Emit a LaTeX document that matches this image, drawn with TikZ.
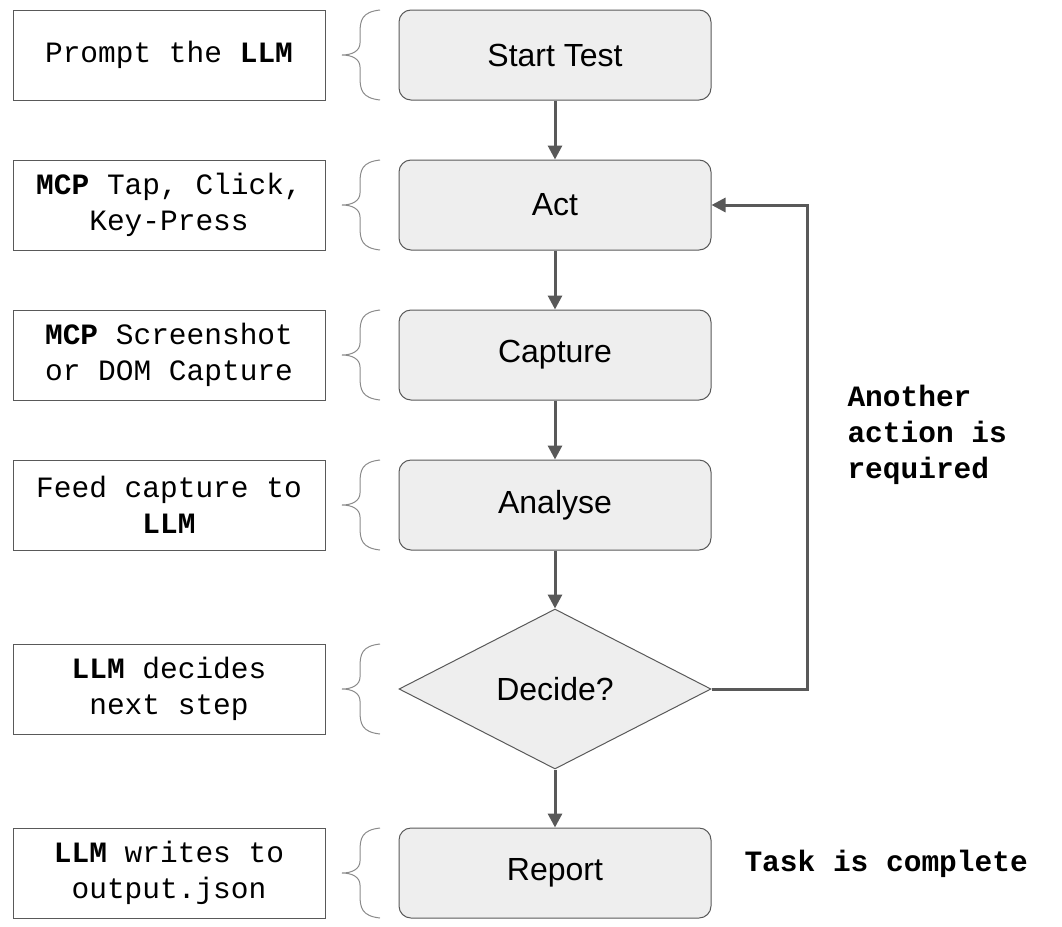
\documentclass[tikz,border=0pt]{standalone}
\usepackage{fontspec}
\setmainfont{Liberation Sans}
\setmonofont{Liberation Mono}
\usetikzlibrary{shapes.geometric,arrows.meta}
\definecolor{ln}{HTML}{595959}
\definecolor{fillg}{HTML}{EEEEEE}
\begin{document}
\begin{tikzpicture}[x=1pt,y=-1pt,
  note/.style={draw=ln,line width=1pt,minimum width=312pt,minimum height=90pt,align=center,font=\fontsize{29.5}{36}\selectfont\ttfamily},
  stepbox/.style={draw=ln,fill=fillg,line width=1pt,rounded corners=12pt,minimum width=312pt,minimum height=90pt,font=\fontsize{32}{38}\selectfont},
  arr/.style={draw=ln,line width=3pt,-{Triangle[length=14pt,width=14pt]}},
  brc/.style={draw=ln!70,line width=1pt},
  lbl/.style={font=\fontsize{29.5}{36}\selectfont\ttfamily\bfseries,align=left}]
\useasboundingbox (0,0) rectangle (1062,926);
\foreach \y/\n in {55/a,205/b,355/c,505/d,689/e,873/f}{
  \draw[brc] (380,\y-45) .. controls (362,\y-43) and (360,\y-35) .. (360,\y-22)
    -- (360,\y-12) .. controls (360,\y-4) and (352,\y) .. (342,\y)
    .. controls (352,\y) and (360,\y+4) .. (360,\y+12) -- (360,\y+22)
    .. controls (360,\y+35) and (362,\y+43) .. (380,\y+45);
}
\node[note] (n1) at (169,55) {Prompt the \textbf{LLM}};
\node[note] (n2) at (169,205) {\textbf{MCP} Tap, Click,\\Key-Press};
\node[note] (n3) at (169,355) {\textbf{MCP} Screenshot\\or DOM Capture};
\node[note] (n4) at (169,505) {Feed capture to\\\textbf{LLM}};
\node[note] (n5) at (169,689) {\textbf{LLM} decides\\next step};
\node[note] (n6) at (169,873) {\textbf{LLM} writes to\\output.json};
\node[stepbox] (s1) at (555,55) {Start Test};
\node[stepbox] (s2) at (555,205) {Act};
\node[stepbox] (s3) at (555,355) {Capture};
\node[stepbox] (s4) at (555,505) {Analyse};
\node[diamond,draw=ln,fill=fillg,line width=1pt,minimum width=312pt,minimum height=160pt,aspect=1.95,inner sep=0pt,font=\fontsize{32}{38}\selectfont] (s5) at (555,689) {Decide?};
\node[stepbox] (s6) at (555,873) {Report};
\draw[arr] (s1) -- (s2);
\draw[arr] (s2) -- (s3);
\draw[arr] (s3) -- (s4);
\draw[arr] (s4) -- (s5.north);
\draw[arr] (s5.south) -- (s6);
\coordinate (c1) at (807,689);
\coordinate (c2) at (807,205);
\draw[arr] (s5.east) -- (c1) -- (c2) -- (s2.east);
\node[lbl,anchor=north west] (l1) at (844,382) {Another\\action is\\required};
\node[lbl,anchor=west] (l2) at (741,864) {Task is complete};
\end{tikzpicture}
\end{document}
